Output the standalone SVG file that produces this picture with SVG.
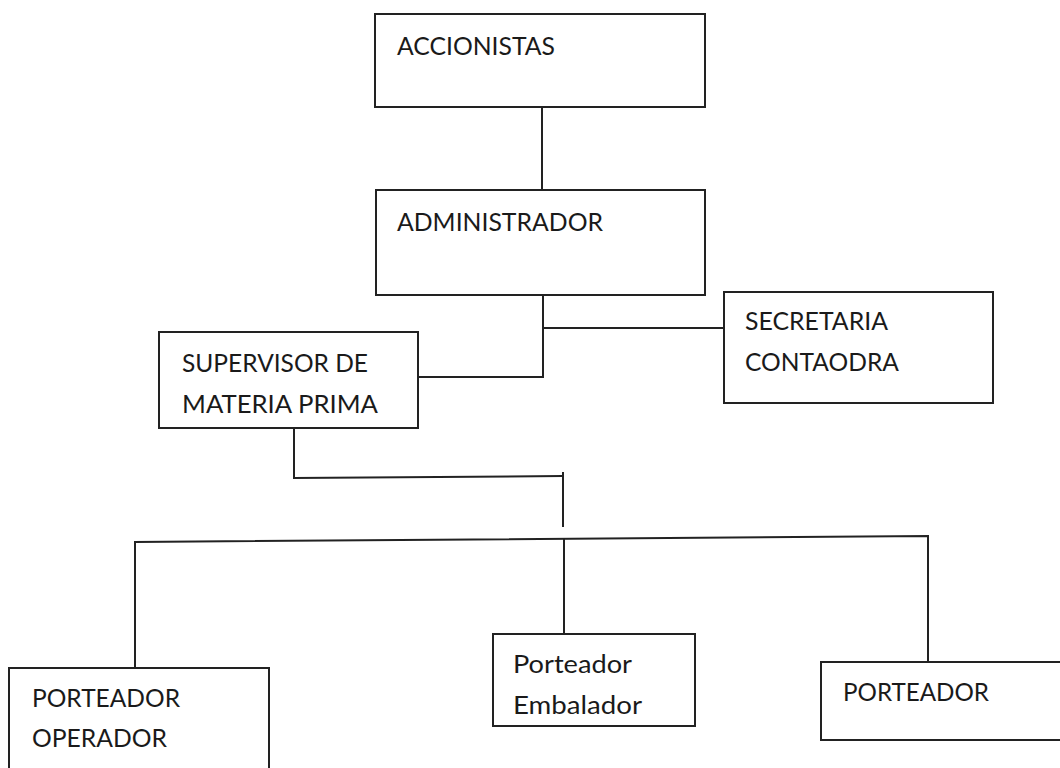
<svg xmlns="http://www.w3.org/2000/svg" width="1060" height="768" viewBox="0 0 1060 768">
<style>
.box{fill:#fff;stroke:#222;stroke-width:2}
.ln{fill:none;stroke:#222;stroke-width:2}
.t{font-family:Lato,"Open Sans","Liberation Sans",sans-serif;font-size:25px;fill:#1a1a1a}
</style>
<rect width="1060" height="768" fill="#fff"/>
<g id="connectors">
<line class="ln" x1="542" y1="107" x2="542" y2="190"/>
<polyline class="ln" points="543,295 543,377 418,377"/>
<line class="ln" x1="543" y1="328" x2="724" y2="328"/>
<polyline class="ln" points="294,428 294,478 563,476"/>
<line class="ln" x1="563" y1="472" x2="563" y2="527"/>
<polyline class="ln" points="135,668 135,542 928,536 928,662"/>
<line class="ln" x1="564" y1="538" x2="564" y2="634"/>
</g>
<g id="accionistas">
<rect class="box" x="375" y="14" width="330" height="93"/>
<text class="t" x="397" y="55" textLength="158" lengthAdjust="spacingAndGlyphs">ACCIONISTAS</text>
</g>
<g id="administrador">
<rect class="box" x="376" y="190" width="329" height="105"/>
<text class="t" x="397" y="231" textLength="206" lengthAdjust="spacingAndGlyphs">ADMINISTRADOR</text>
</g>
<g id="supervisor">
<rect class="box" x="159" y="332" width="259" height="96"/>
<text class="t" x="182" y="372" textLength="186" lengthAdjust="spacingAndGlyphs">SUPERVISOR DE</text>
<text class="t" x="182" y="413" textLength="196" lengthAdjust="spacingAndGlyphs">MATERIA PRIMA</text>
</g>
<g id="secretaria">
<rect class="box" x="724" y="292" width="269" height="111"/>
<text class="t" x="745" y="330" textLength="143" lengthAdjust="spacingAndGlyphs">SECRETARIA</text>
<text class="t" x="745" y="371" textLength="154" lengthAdjust="spacingAndGlyphs">CONTAODRA</text>
</g>
<g id="porteador-operador">
<rect class="box" x="9" y="668" width="260" height="120"/>
<text class="t" x="32" y="707" textLength="148" lengthAdjust="spacingAndGlyphs">PORTEADOR</text>
<text class="t" x="32" y="747" textLength="135" lengthAdjust="spacingAndGlyphs">OPERADOR</text>
</g>
<g id="porteador-embalador">
<rect class="box" x="493" y="634" width="202" height="92"/>
<text class="t" x="513" y="673" textLength="119" lengthAdjust="spacingAndGlyphs">Porteador</text>
<text class="t" x="513" y="714" textLength="129" lengthAdjust="spacingAndGlyphs">Embalador</text>
</g>
<g id="porteador">
<rect class="box" x="821" y="662" width="260" height="78"/>
<text class="t" x="843" y="701" textLength="146" lengthAdjust="spacingAndGlyphs">PORTEADOR</text>
</g>
</svg>
